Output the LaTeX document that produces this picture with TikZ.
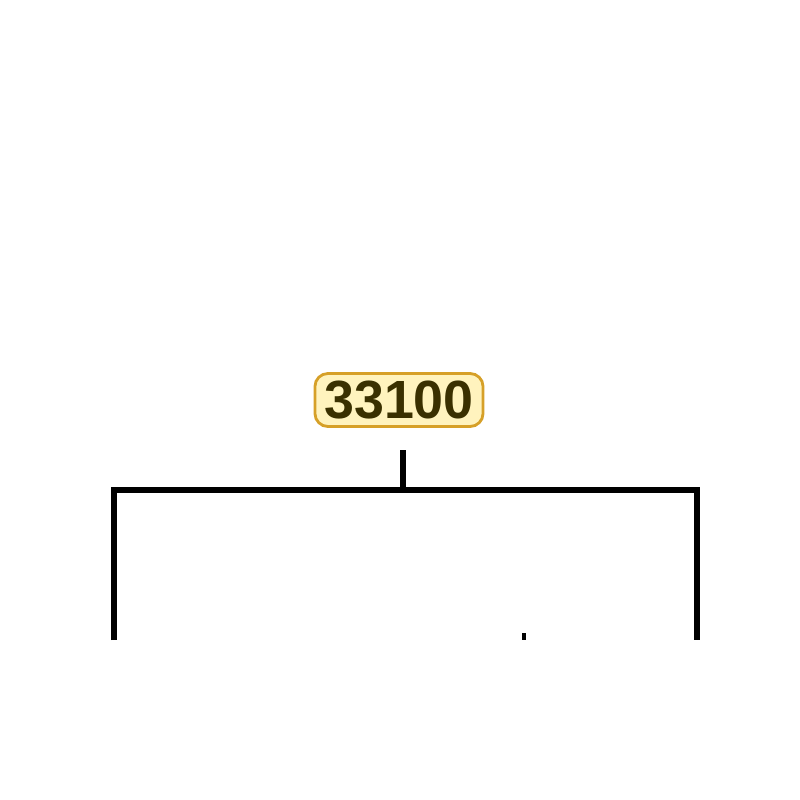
\documentclass[tikz,border=0pt]{standalone}
\usepackage{fontspec}
\setmainfont{Liberation Sans}
\usetikzlibrary{positioning}
\definecolor{tagfill}{RGB}{255,243,190}
\definecolor{tagborder}{RGB}{214,160,40}
\definecolor{tagtext}{RGB}{58,48,0}

\begin{document}
\begin{tikzpicture}[
    x=0.01cm, y=-0.01cm,
    tag/.style={rectangle, draw=tagborder, line width=0.8pt, fill=tagfill, rounded corners=0.13cm,
                minimum width=1.68cm, minimum height=0.53cm, inner xsep=0.08cm, inner ysep=0pt, text centered,
                text=tagtext, font=\fontsize{15.3}{16}\selectfont\bfseries},
    link/.style={line width=1.65pt, line join=miter}
]
    \useasboundingbox (0,0) rectangle (800,800);

    % Code label
    \node[tag] (code) at (399,400) {33100};

    % Bracket points
    \coordinate (stemtop) at (403,450);
    \coordinate (join) at (403,490);
    \coordinate (lcorner) at (114,490);
    \coordinate (rcorner) at (697,490);
    \coordinate (lfoot) at (114,640);
    \coordinate (rfoot) at (697,640);
    \coordinate (ticktop) at (524,633);
    \coordinate (tickfoot) at (524,640);

    % Connections
    \draw[link] (stemtop) -- (join);
    \draw[link] (lfoot) -- (lcorner) -- (rcorner) -- (rfoot);
    \draw[line width=1pt] (ticktop) -- (tickfoot);

\end{tikzpicture}
\end{document}
